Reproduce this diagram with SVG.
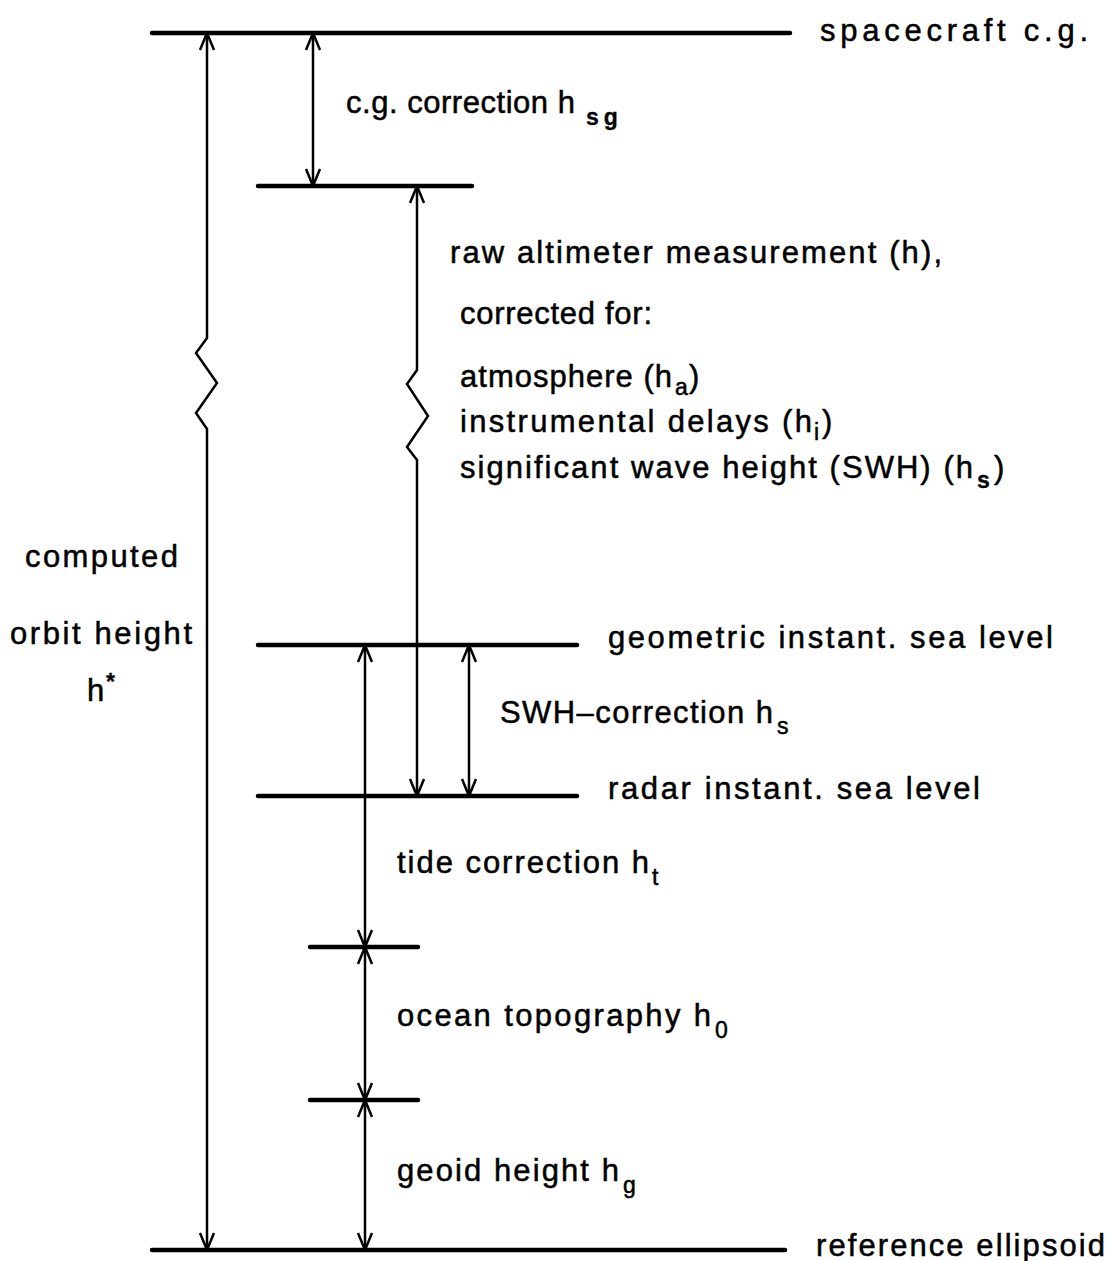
<svg xmlns="http://www.w3.org/2000/svg" width="1114" height="1261" viewBox="0 0 1114 1261">
<style>
.lvl{stroke:#000;stroke-width:4.5;stroke-linecap:round;fill:none}
.con{stroke:#000;stroke-width:2.5;fill:none;marker-start:url(#arr);marker-end:url(#arr)}
text{font-family:"Liberation Sans",Arial,sans-serif;font-size:31px;fill:#000;stroke:#000;stroke-width:0.5}
.sub{font-size:23px}
.bsub{font-size:23px;font-weight:bold;stroke-width:0.3}
</style>
<defs>
<marker id="arr" markerUnits="userSpaceOnUse" viewBox="-19 -9 20 18" refX="0" refY="0" markerWidth="20" markerHeight="18" orient="auto-start-reverse">
<path d="M-17,-7 L0,0 L-17,7" fill="none" stroke="#000" stroke-width="2.5"/>
</marker>
</defs>
<rect width="1114" height="1261" fill="#fff"/>
<g id="levels">
<g id="spacecraft-cg"><line class="lvl" x1="152" y1="33" x2="790" y2="33"/><text x="820" y="41" textLength="268" lengthAdjust="spacing">spacecraft c.g.</text></g>
<g id="cg-corrected"><line class="lvl" x1="258" y1="186" x2="472" y2="186"/></g>
<g id="geometric-sea-level"><line class="lvl" x1="258" y1="645" x2="577" y2="645"/><text x="608" y="648" textLength="445" lengthAdjust="spacing">geometric instant. sea level</text></g>
<g id="radar-sea-level"><line class="lvl" x1="258" y1="796" x2="577" y2="796"/><text x="608" y="799" textLength="372" lengthAdjust="spacing">radar instant. sea level</text></g>
<g id="tide-level"><line class="lvl" x1="310" y1="947" x2="418" y2="947"/></g>
<g id="geoid-level"><line class="lvl" x1="310" y1="1100" x2="418" y2="1100"/></g>
<g id="reference-ellipsoid"><line class="lvl" x1="152" y1="1250" x2="785" y2="1250"/><text x="816" y="1256" textLength="289" lengthAdjust="spacing">reference ellipsoid</text></g>
</g>
<g id="connectors">
<path class="con" d="M207,33 V338 L196,353 L217,383 L196,413 L207,429 V1250"/>
<path class="con" d="M313,33 V186"/>
<path class="con" d="M417,186 V370 L407,384 L428,416 L407,447 L417,460 V796"/>
<path class="con" d="M469,645 V796"/>
<path class="con" d="M365,645 V947"/>
<path class="con" d="M365,947 V1100"/>
<path class="con" d="M365,1100 V1250"/>
</g>
<g id="labels">
<g id="cg-correction"><text x="346" y="113" textLength="229" lengthAdjust="spacing">c.g. correction h</text><text class="bsub" x="586" y="125" font-size="25" letter-spacing="5">sg</text></g>
<g id="raw-measurement">
<text x="450" y="263" textLength="492" lengthAdjust="spacing">raw altimeter measurement (h),</text>
<text x="460" y="324" textLength="192" lengthAdjust="spacing">corrected for:</text>
<text x="460" y="387"><tspan textLength="212" lengthAdjust="spacing">atmosphere (h</tspan><tspan class="sub" x="675" dy="8">a</tspan><tspan x="689" dy="-8">)</tspan></text>
<text x="460" y="432"><tspan textLength="352" lengthAdjust="spacing">instrumental delays (h</tspan><tspan class="sub" x="814" dy="8">i</tspan><tspan x="822" dy="-8">)</tspan></text>
<text x="460" y="478"><tspan textLength="513" lengthAdjust="spacing">significant wave height (SWH) (h</tspan><tspan class="bsub" x="977" dy="10">s</tspan><tspan x="994" dy="-10">)</tspan></text>
</g>
<g id="orbit-height">
<text x="25" y="567" textLength="153" lengthAdjust="spacing">computed</text>
<text x="10" y="644" textLength="182" lengthAdjust="spacing">orbit height</text>
<text x="87" y="701">h</text><text class="bsub" x="106" y="690">*</text>
</g>
<g id="swh-correction"><text x="500" y="723" textLength="273" lengthAdjust="spacing">SWH–correction h</text><text class="sub" x="777" y="734">s</text></g>
<g id="tide-correction"><text x="397" y="873" textLength="252" lengthAdjust="spacing">tide correction h</text><text class="sub" x="652" y="885">t</text></g>
<g id="ocean-topography"><text x="397" y="1026" textLength="314" lengthAdjust="spacing">ocean topography h</text><text class="sub" x="715" y="1038">0</text></g>
<g id="geoid-height"><text x="397" y="1181" textLength="222" lengthAdjust="spacing">geoid height h</text><text class="sub" x="623" y="1193">g</text></g>
</g>
</svg>
